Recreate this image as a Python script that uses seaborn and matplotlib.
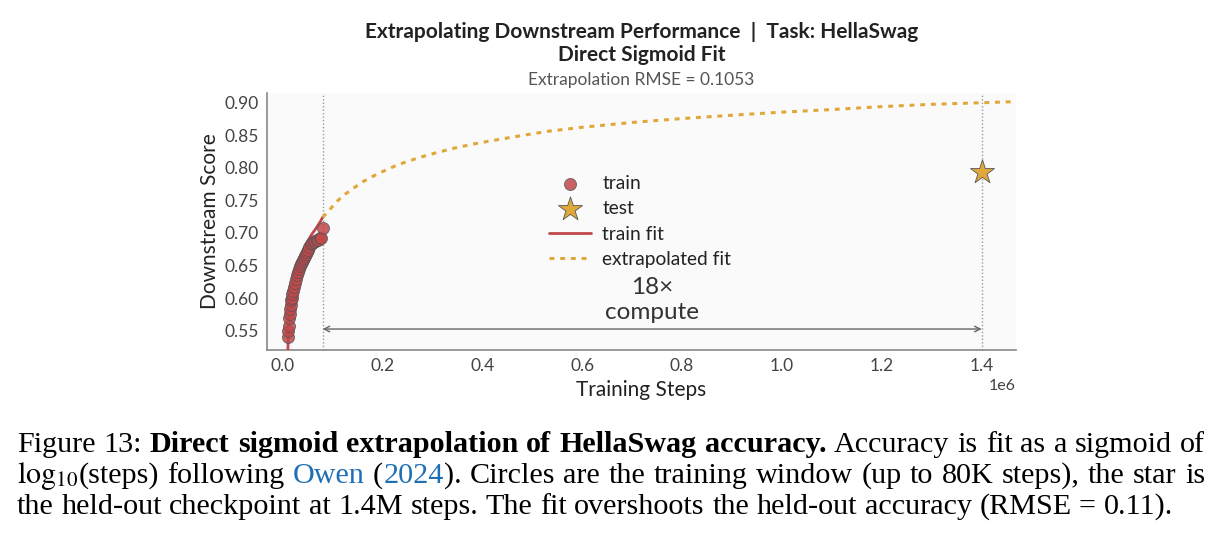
import matplotlib
matplotlib.use("Agg")
import matplotlib.pyplot as plt
from matplotlib.transforms import IdentityTransform
import seaborn as sns
import pandas as pd

# ---------------- data ----------------
train_steps = [10000, 11000, 12000, 13000, 14000, 15000, 16000, 17000, 18000, 19000,
               20000, 22000, 24000, 26000, 28000, 30000, 32000, 34000, 36000, 38000,
               40000, 42000, 44000, 46000, 48000, 50000, 53000, 56000, 59000, 62000,
               65000, 68000, 71000, 74000, 77000, 80000]
train_score = [0.541, 0.550, 0.558, 0.569, 0.576, 0.584, 0.590, 0.597, 0.600, 0.606,
               0.611, 0.617, 0.624, 0.630, 0.636, 0.640, 0.645, 0.649, 0.652, 0.656,
               0.659, 0.662, 0.665, 0.667, 0.671, 0.674, 0.679, 0.683, 0.685, 0.686,
               0.688, 0.689, 0.690, 0.692, 0.693, 0.708]

test_steps = [1400000]
test_score = [0.7936]

fit_train_steps = [10000, 10500, 11000, 12000, 13000, 14000, 16000, 18000, 20000, 23000,
                   26000, 30000, 35000, 40000, 45000, 50000, 55000, 60000, 65000, 70000,
                   75000, 80000]
fit_train_score = [0.505, 0.522, 0.535, 0.553, 0.566, 0.577, 0.594, 0.606, 0.616, 0.629,
                   0.640, 0.651, 0.663, 0.672, 0.680, 0.687, 0.694, 0.700, 0.705, 0.711,
                   0.717, 0.724]

fit_extrap_steps = [80000, 95000, 110000, 125000, 140000, 160000, 180000, 200000, 225000,
                    250000, 280000, 310000, 345000, 380000, 420000, 470000, 530000, 600000,
                    700000, 800000, 900000, 1000000, 1100000, 1200000, 1300000, 1400000,
                    1470000]
fit_extrap_score = [0.7240, 0.7366, 0.7495, 0.7595, 0.7678, 0.7784, 0.7868, 0.7943, 0.8029,
                    0.8100, 0.8172, 0.8237, 0.8305, 0.8363, 0.8419, 0.8484, 0.8560, 0.8623,
                    0.8697, 0.8757, 0.8808, 0.8855, 0.8895, 0.8940, 0.8975, 0.9000, 0.9017]

train_window_end = 80000
test_checkpoint = 1400000
compute_ratio_label = "18×\ncompute"

title_main = "Extrapolating Downstream Performance  |  Task: HellaSwag"
title_sub = "Direct Sigmoid Fit"
subtitle = "Extrapolation RMSE = 0.1053"
xlabel = "Training Steps"
ylabel = "Downstream Score"
yticks = [0.55, 0.60, 0.65, 0.70, 0.75, 0.80, 0.85, 0.90]
xticks = [0.0, 0.2e6, 0.4e6, 0.6e6, 0.8e6, 1.0e6, 1.2e6, 1.4e6]

RED = "#c0474a"
GOLD = "#e0a83a"
BLUE = "#1f6fb5"

# ---------------- figure ----------------
sns.set_theme(style="white")
plt.rcParams["font.family"] = ["Lato", "DejaVu Sans"]
plt.rcParams["mathtext.fontset"] = "stix"

W, H = 1219, 540
fig = plt.figure(figsize=(W / 100, H / 100), dpi=100)
ax = fig.add_axes([267 / W, 1 - 350 / H, (1016 - 267) / W, (350 - 93) / H])
ax.set_facecolor("#fafafa")

df_train = pd.DataFrame({"steps": train_steps, "score": train_score})
df_test = pd.DataFrame({"steps": test_steps, "score": test_score})
df_ft = pd.DataFrame({"steps": fit_train_steps, "score": fit_train_score})
df_fe = pd.DataFrame({"steps": fit_extrap_steps, "score": fit_extrap_score})

ax.axvline(train_window_end, color="#999999", lw=1.0, ls=(0, (1, 1.5)), zorder=1)
ax.axvline(test_checkpoint, color="#999999", lw=1.0, ls=(0, (1, 1.5)), zorder=1)

sns.lineplot(data=df_ft, x="steps", y="score", ax=ax, color=RED, lw=2.0,
             errorbar=None, label="train fit", zorder=3)
sns.lineplot(data=df_fe, x="steps", y="score", ax=ax, color=GOLD, lw=2.2,
             linestyle=(0, (1.6, 1.9)), errorbar=None, label="extrapolated fit", zorder=3)
sns.scatterplot(data=df_train, x="steps", y="score", ax=ax, color=RED, s=75,
                edgecolor="#555555", linewidth=0.6, alpha=0.85, label="train", zorder=4)
sns.scatterplot(data=df_test, x="steps", y="score", ax=ax, color=GOLD, marker="*", s=330,
                edgecolor="#555555", linewidth=0.6, label="test", zorder=5)

ax.annotate("", xy=(train_window_end, 0.5526), xytext=(test_checkpoint, 0.5526),
            arrowprops=dict(arrowstyle="<->", color="#666666", lw=1.0,
                            shrinkA=0, shrinkB=0, mutation_scale=10))
ax.text((train_window_end + test_checkpoint) / 2, 0.597, compute_ratio_label,
        ha="center", va="center", fontsize=17.5, color="#333333", linespacing=1.25)

ax.set_xlim(-0.0314e6, 1.4687e6)
ax.set_ylim(0.5204, 0.9149)
ax.set_xticks(xticks)
ax.set_yticks(yticks)
ax.set_yticklabels([f"{v:.2f}" for v in yticks])
ax.tick_params(length=0, labelsize=12.5, colors="#444444", pad=6)
ax.xaxis.get_offset_text().set_fontsize(11.5)
ax.xaxis.get_offset_text().set_color("#444444")
ax.set_xlabel(xlabel, fontsize=15, color="#222222", labelpad=4)
ax.set_ylabel(ylabel, fontsize=15, color="#222222", labelpad=3)
for s in ["top", "right"]:
    ax.spines[s].set_visible(False)
for s in ["left", "bottom"]:
    ax.spines[s].set_color("#888888")
    ax.spines[s].set_linewidth(1.2)

handles, labels = ax.get_legend_handles_labels()
hmap = dict(zip(labels, handles))
order = ["train", "test", "train fit", "extrapolated fit"]
ax.legend([hmap[k] for k in order], order, loc="center", bbox_to_anchor=(0.498, 0.5),
          frameon=False, fontsize=13.8, labelspacing=0.42, handlelength=2.2,
          handletextpad=0.6, labelcolor="#222222")

cx = (267 + 1016) / 2 / W
fig.text(cx, 1 - 32 / H, title_main, ha="center", va="center", fontsize=15,
         fontweight="bold", color="#222222")
fig.text(cx, 1 - 55 / H, title_sub, ha="center", va="center", fontsize=15,
         fontweight="bold", color="#222222")
fig.text(cx, 1 - 80 / H, subtitle, ha="center", va="center", fontsize=12.5, color="#555555")

# ---------------- caption (justified, word by word) ----------------
renderer = fig.canvas.get_renderer()
CAP_FS = 21.7
CAP_FAMILY = ["Liberation Serif", "DejaVu Serif"]


def tok(text, bold=False, color="black", glue=False):
    return (text, "bold" if bold else "normal", color, glue)


line1 = [tok(w) for w in "Figure 13:".split()] + \
        [tok(w, bold=True) for w in "Direct sigmoid extrapolation of HellaSwag accuracy.".split()] + \
        [tok(w) for w in "Accuracy is fit as a sigmoid of".split()]
line2 = [tok(r"$\log_{10}$"), tok("(steps)", glue=True), tok("following"),
         tok("Owen", color=BLUE), tok("("), tok("2024", color=BLUE, glue=True),
         tok(").", glue=True)] + \
        [tok(w) for w in "Circles are the training window (up to 80K steps), the star is".split()]
line3 = [tok(w) for w in
         "the held-out checkpoint at 1.4M steps. The fit overshoots the held-out accuracy (RMSE = 0.11).".split()]


def draw_line(tokens, baseline_px, x0, x1, justify):
    arts, widths = [], []
    for text, weight, color, glue in tokens:
        t = fig.text(0, 0, text, fontsize=CAP_FS, family=CAP_FAMILY, fontweight=weight,
                     color=color, ha="left", va="baseline", transform=IdentityTransform())
        arts.append(t)
        widths.append(t.get_window_extent(renderer).width)
    ngaps = sum(1 for i, tk in enumerate(tokens) if i > 0 and not tk[3])
    if justify:
        gap = (x1 - x0 - sum(widths)) / ngaps
    else:
        gap = 0.25 * CAP_FS * 100 / 72
    x = x0
    for i, (t, w, tk) in enumerate(zip(arts, widths, tokens)):
        if i > 0 and not tk[3]:
            x += gap
        t.set_position((x, H - baseline_px))
        x += w


draw_line(line1, 452, 17, 1205, True)
draw_line(line2, 483, 17, 1205, True)
draw_line(line3, 514, 17, 1205, False)

fig.savefig("out.png", dpi=100)
